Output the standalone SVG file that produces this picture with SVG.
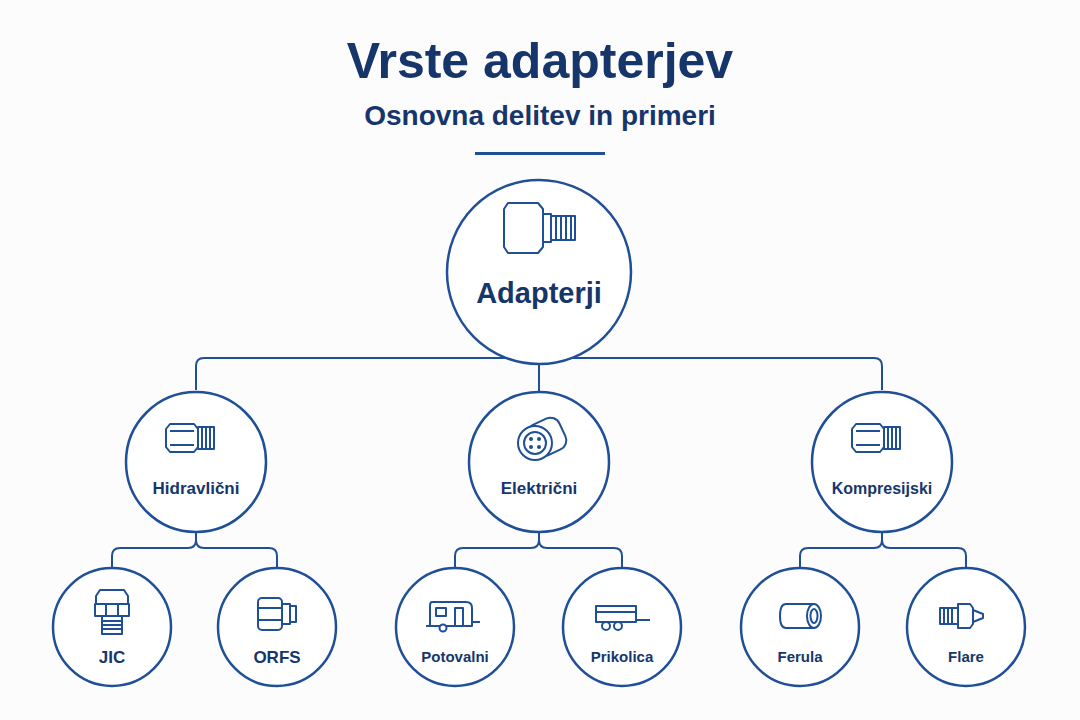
<svg xmlns="http://www.w3.org/2000/svg" width="1080" height="720" viewBox="0 0 1080 720">
<style>
.c{fill:#fff;stroke:#1f4f96;stroke-width:2.5}
.l{fill:none;stroke:#1f4f96;stroke-width:2}
.i{fill:#fff;stroke:#1f4f96;stroke-width:2;stroke-linejoin:round}
.t{font-family:"Liberation Sans",Arial,sans-serif;font-weight:bold;fill:#16366b;text-anchor:middle}
.d{fill:#1f4f96}
</style>
<defs>
<g id="hex"><path class="i" d="M-22,-14 h24 l4,5 v18 l-4,5 h-24 l-4,-5 v-18z"/><path class="l" d="M-22,-7 h24 M-22,7 h24"/><rect class="i" x="6" y="-11" width="16" height="22"/><path class="l" d="M10,-11 v22 M14,-11 v22 M18,-11 v22"/></g>
</defs>
<rect width="1080" height="720" fill="#fcfcfd"/>
<text class="t" x="540" y="78" font-size="50">Vrste adapterjev</text>
<text class="t" x="540" y="125" font-size="28" fill="#1f4f96">Osnovna delitev in primeri</text>
<rect x="475" y="152" width="130" height="3" fill="#1f4f96"/>
<g id="connectors">
<path class="l" d="M539,349 V358 M196,390 V366 q0,-8 8,-8 H874 q8,0 8,8 V390 M539,358 V392"/>
<path class="l" d="M196,527 V540 q0,8 -8,8 H120 q-8,0 -8,8 V568 M196,540 q0,8 8,8 H269 q8,0 8,8 V568"/>
<path class="l" d="M539,527 V540 q0,8 -8,8 H463 q-8,0 -8,8 V568 M539,540 q0,8 8,8 H614 q8,0 8,8 V568"/>
<path class="l" d="M882,527 V540 q0,8 -8,8 H808 q-8,0 -8,8 V568 M882,540 q0,8 8,8 H958 q8,0 8,8 V568"/>
<circle class="d" cx="539" cy="349" r="5"/><circle class="d" cx="196" cy="527" r="4.5"/><circle class="d" cx="539" cy="527" r="4.5"/><circle class="d" cx="882" cy="527" r="4.5"/>
</g>
<g id="root"><circle class="c" cx="539" cy="272" r="92"/>
<path class="i" d="M508,203 h30 l5,6 v38 l-5,6 h-30 l-4,-6 v-38z"/><rect class="i" x="543" y="214" width="8" height="28"/><rect class="i" x="551" y="216" width="24" height="24"/><path class="l" d="M556,216 v24 M561,216 v24 M566,216 v24 M571,216 v24"/>
<text class="t" x="539" y="303" font-size="29">Adapterji</text></g>
<g id="hidravlicni"><circle class="c" cx="196" cy="462" r="70"/><use href="#hex" x="192" y="438"/><text class="t" x="196" y="494" font-size="17">Hidravlični</text></g>
<g id="elektricni"><circle class="c" cx="539" cy="462" r="70"/>
<rect class="i" x="530" y="420" width="34" height="34" rx="10" transform="rotate(-25 547 437)"/><circle class="i" cx="535" cy="443" r="17"/><circle class="i" cx="535" cy="443" r="11"/><circle class="d" cx="531" cy="439" r="2"/><circle class="d" cx="539" cy="439" r="2"/><circle class="d" cx="531" cy="447" r="2"/><circle class="d" cx="539" cy="447" r="2"/>
<text class="t" x="539" y="494" font-size="17">Električni</text></g>
<g id="kompresijski"><circle class="c" cx="882" cy="462" r="70"/><use href="#hex" x="878" y="438"/><text class="t" x="882" y="494" font-size="16">Kompresijski</text></g>
<g id="jic"><circle class="c" cx="112" cy="627" r="59"/>
<path class="i" d="M100,590 h24 l4,6 v8 h-32 v-8z"/><rect class="i" x="95" y="604" width="34" height="12"/><path class="l" d="M106,604 v12 M118,604 v12"/><rect class="i" x="102" y="616" width="20" height="18"/><path class="l" d="M102,621 h20 M102,625 h20 M102,629 h20"/>
<text class="t" x="112" y="663" font-size="17">JIC</text></g>
<g id="orfs"><circle class="c" cx="277" cy="627" r="59"/>
<rect class="i" x="258" y="598" width="24" height="32" rx="4"/><path class="l" d="M258,608 h24 M258,620 h24"/><rect class="i" x="282" y="604" width="8" height="20"/><rect class="i" x="290" y="606" width="6" height="16"/>
<text class="t" x="277" y="663" font-size="17">ORFS</text></g>
<g id="potovalni"><circle class="c" cx="455" cy="627" r="59"/>
<path class="i" d="M432,602 h34 q6,0 6,6 v18 h-42 v-20 q0,-4 2,-4z"/><rect class="i" x="436" y="608" width="10" height="8"/><rect class="i" x="455" y="608" width="8" height="18"/><circle class="i" cx="443" cy="628" r="3.5"/><path class="l" d="M472,622 h8 M426,626 h4"/>
<text class="t" x="455" y="662" font-size="15">Potovalni</text></g>
<g id="prikolica"><circle class="c" cx="622" cy="627" r="59"/>
<rect class="i" x="596" y="606" width="40" height="16"/><path class="l" d="M596,612 h40 M636,620 h14"/><circle class="i" cx="606" cy="626" r="4"/><circle class="i" cx="618" cy="626" r="4"/>
<text class="t" x="622" y="662" font-size="15">Prikolica</text></g>
<g id="ferula"><circle class="c" cx="800" cy="627" r="59"/>
<path class="i" d="M786,604 h28 v24 h-28 q-6,0 -6,-12 q0,-12 6,-12z"/><ellipse class="i" cx="814" cy="616" rx="7" ry="12"/><ellipse class="i" cx="814" cy="616" rx="3.5" ry="7"/>
<text class="t" x="800" y="662" font-size="15">Ferula</text></g>
<g id="flare"><circle class="c" cx="966" cy="627" r="59"/>
<rect class="i" x="940" y="608" width="18" height="16"/><path class="l" d="M944,608 v16 M948,608 v16 M952,608 v16"/><path class="i" d="M958,604 h12 l3,4 v16 l-3,4 h-12z"/><path class="i" d="M973,610 l10,4 v4 l-10,4z"/>
<text class="t" x="966" y="662" font-size="15">Flare</text></g>
</svg>
